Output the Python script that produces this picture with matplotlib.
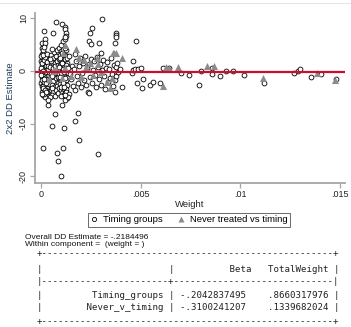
import matplotlib
matplotlib.use("Agg")
import matplotlib.pyplot as plt
from matplotlib.lines import Line2D

plt.rcParams['font.family'] = ['Liberation Sans', 'DejaVu Sans']

W, H = 351, 327

# Timing groups: (weight, 2x2 estimate)
timing_dense = [
    (0.00003, 3.2), (0.00015, 3.5), (0.00027, 2.9), (0.00008, 2.6), (0.00020, 2.3), (0.00033, 2.0),
    (0.00002, 1.9), (0.00012, 1.6), (0.00025, 1.4), (0.00005, 1.1), (0.00018, 0.9), (0.00030, 0.7),
    (0.00010, 0.5), (0.00022, 0.3), (0.00001, 0.1), (0.00014, -0.1), (0.00028, -0.3), (0.00006, -0.5),
    (0.00019, -0.7), (0.00034, -0.9), (0.00003, -1.1), (0.00013, -1.3), (0.00025, -1.5), (0.00008, -1.7),
    (0.00020, -1.9), (0.00031, -2.1), (0.00002, -2.3), (0.00015, -2.5), (0.00027, -2.7), (0.00007, -2.9),
    (0.00018, -3.1), (0.00032, -3.3), (0.00011, -3.5), (0.00024, -3.7), (0.00004, -3.9), (0.00016, -4.1),
    (0.00028, -4.3), (0.00009, -4.6), (0.00021, -4.9), (0.00036, -0.2), (0.00038, 1.3), (0.00039, -2.4),
    (0.00010, 2.1), (0.00023, 1.0), (0.00005, -0.3), (0.00017, -1.0), (0.00029, -1.9), (0.00012, -2.8),
    (0.00026, 0.2), (0.00001, 2.8), (0.00006, 4.3), (0.00014, 4.9), (0.00004, 5.4), (0.00009, 3.9),
    (0.00000, 0.6), (0.00011, -0.6), (0.00021, -0.2), (0.00033, 0.4), (0.00006, 1.5), (0.00016, 2.0),
    (0.00029, 1.7), (0.00003, -1.8), (0.00014, -2.0), (0.00024, -2.3), (0.00035, -1.5), (0.00008, -3.3),
    (0.00019, -3.6), (0.00030, -3.9), (0.00013, -4.4), (0.00024, -4.0), (0.00005, -4.3), (0.00022, 2.7),
    (0.00011, 3.0), (0.00030, 3.3), (0.00017, -1.5), (0.00009, 0.0), (0.00035, 1.0), (0.00002, -0.8),
    (0.00048, 3.0), (0.00060, 2.5), (0.00075, 2.8), (0.00052, 1.8), (0.00068, 1.5), (0.00082, 1.9),
    (0.00046, 0.8), (0.00058, 0.5), (0.00072, 0.9), (0.00085, 0.3), (0.00050, -0.5), (0.00064, -0.8),
    (0.00079, -0.4), (0.00047, -1.6), (0.00060, -1.9), (0.00074, -1.4), (0.00084, -2.2), (0.00053, -2.7),
    (0.00067, -3.0), (0.00080, -2.9), (0.00049, -3.6), (0.00062, -3.9), (0.00076, -3.7), (0.00056, -4.5),
    (0.00070, -4.8), (0.00083, -4.2), (0.00044, -5.0), (0.00066, 3.6), (0.00080, 3.9), (0.00055, 4.2),
    (0.00054, -1.0), (0.00069, -0.2), (0.00086, -1.2), (0.00043, 2.2), (0.00057, -3.2), (0.00087, 1.2),
    (0.00092, 4.3), (0.00100, 3.8), (0.00108, 4.0), (0.00116, 3.5), (0.00124, 3.9), (0.00095, 3.1),
    (0.00103, 2.7), (0.00111, 3.0), (0.00120, 2.6), (0.00128, 2.9), (0.00090, 2.2), (0.00098, 1.8),
    (0.00106, 2.1), (0.00114, 1.7), (0.00122, 2.0), (0.00131, 1.5), (0.00093, 1.2), (0.00101, 0.9),
    (0.00109, 1.3), (0.00117, 0.8), (0.00125, 1.1), (0.00096, 0.3), (0.00104, 0.0), (0.00112, 0.4),
    (0.00120, -0.1), (0.00128, 0.2), (0.00091, -0.6), (0.00099, -0.9), (0.00107, -0.5), (0.00115, -1.0),
    (0.00123, -0.7), (0.00131, -1.2), (0.00094, -1.6), (0.00102, -1.9), (0.00110, -1.5), (0.00118, -2.0),
    (0.00126, -1.7), (0.00097, -2.5), (0.00105, -2.8), (0.00113, -2.4), (0.00121, -2.9), (0.00129, -2.6),
    (0.00092, -3.3), (0.00100, -3.6), (0.00108, -3.2), (0.00116, -3.7), (0.00124, -3.4), (0.00103, -4.2),
    (0.00111, -4.5), (0.00119, -4.1), (0.00127, -4.6), (0.00133, -5.2), (0.00119, -5.5), (0.00098, 5.0),
    (0.00112, 5.6), (0.00121, 6.0),
    (0.00096, 2.5), (0.00105, 1.5), (0.00118, 2.3), (0.00126, 0.6), (0.00100, -0.3), (0.00113, -0.2),
    (0.00095, -1.2), (0.00108, -2.2), (0.00122, -1.3), (0.00099, -3.0), (0.00114, -3.0), (0.00127, -3.9),
    (0.00106, 3.4), (0.00118, 4.4), (0.00101, -4.8), (0.00089, 0.8), (0.00132, 2.4), (0.00134, -0.3),
]
timing_spread = [
    (0.00140, 2.8), (0.00150, -1.5), (0.00155, 1.0), (0.00160, -2.8), (0.00165, 0.4), (0.00170, 3.2),
    (0.00172, -3.6), (0.00178, 1.8), (0.00182, -0.9), (0.00188, -2.2), (0.00192, 0.9), (0.00198, 2.5),
    (0.00202, -3.1), (0.00208, -0.3), (0.00212, 1.6), (0.00218, -1.8), (0.00222, 2.9), (0.00228, -2.6),
    (0.00232, 0.5), (0.00238, -3.9), (0.00242, 1.3), (0.00248, -1.1), (0.00252, 2.2), (0.00258, -2.3),
    (0.00262, 0.2), (0.00268, 1.9), (0.00272, -0.7), (0.00278, -3.0), (0.00282, 2.7), (0.00288, 0.8),
    (0.00292, -1.6), (0.00298, 1.4), (0.00302, -2.6), (0.00308, 0.1), (0.00312, 2.0), (0.00318, -1.0),
    (0.00322, -3.4), (0.00328, 0.6), (0.00332, 1.7), (0.00338, -2.0), (0.00342, 0.3), (0.00348, -1.3),
    (0.00352, 2.4), (0.00358, -0.5), (0.00362, -2.9), (0.00366, 1.2), (0.00370, -1.8), (0.00374, 0.7),
    (0.00378, -0.9), (0.00382, 1.6), (0.00388, -0.2), (0.00395, 0.4), (0.00142, -4.4), (0.00135, 0.6),
    (0.00145, -0.6),
]
timing_outer = [
    (0.00017, 7.6), (0.00074, 9.2), (0.00062, 7.3), (0.00104, 8.9), (0.00120, 8.3), (0.00122, 7.9),
    (0.00123, 7.2), (0.00124, 6.7), (0.00122, 6.5), (0.00304, 9.9), (0.00256, 8.1), (0.00246, 7.2),
    (0.00242, 5.75), (0.00249, 5.1), (0.00289, 5.4), (0.00376, 7.2), (0.00376, 6.9), (0.00375, 6.5),
    (0.00371, 5.4), (0.00476, 5.6), (0.00018, 6.1), (0.00018, 5.3), (0.00017, 4.6), (0.00301, 3.4),
    (0.00463, 1.8),
    (0.00008, -14.6), (0.00070, -8.2), (0.00054, -10.4), (0.00034, -6.5), (0.00037, -5.5), (0.00105, -6.5),
    (0.00114, -10.8), (0.00110, -14.7), (0.00079, -15.6), (0.00087, -17.1), (0.00099, -19.9), (0.00170, -9.4),
    (0.00186, -7.9), (0.00189, -13.1), (0.00287, -15.8), (0.00137, -5.0), (0.00120, -4.6), (0.00242, -4.2),
    (0.00371, -4.0), (0.00406, -3.1), (0.00480, -2.3), (0.00505, -3.3), (0.00513, -1.5), (0.00547, -2.7),
    (0.00560, -2.1), (0.00597, -2.2), (0.00456, -0.3), (0.00460, 0.1), (0.00470, 0.3), (0.00485, 0.4),
    (0.00500, 0.5), (0.00610, 0.6), (0.00640, 0.5),
    (0.00702, -0.3), (0.00742, -0.7), (0.00794, -2.6), (0.00801, 0.05), (0.00859, -0.63), (0.00859, 0.5),
    (0.00896, -1.0), (0.00926, 0.0), (0.00965, -0.06), (0.01020, -0.7), (0.01120, -2.3), (0.01267, -0.44),
    (0.01290, 0.05), (0.01300, 0.4), (0.01354, -1.1), (0.01403, -0.6), (0.01481, -1.5),
]
timing_all = timing_dense + timing_spread + timing_outer
timing_w = [p[0] for p in timing_all]
timing_b = [p[1] for p in timing_all]

# Never treated vs timing
never_w = [0.00064, 0.00075, 0.00060, 0.00119, 0.00112, 0.00174, 0.00190, 0.00217, 0.00246, 0.00225,
           0.00280, 0.00300, 0.00285, 0.00260, 0.00346, 0.00354, 0.00363, 0.00368, 0.00376, 0.00405,
           0.00613, 0.00625, 0.00640, 0.00689, 0.00834, 0.00868, 0.01115, 0.01386, 0.01473, 0.00150,
           0.00105, 0.00120, 0.00040, 0.00330, 0.00200]
never_b = [0.2, 0.4, 0.0, 4.9, 3.4, 4.2, 2.4, 2.0, 1.5, 0.8,
           2.4, -0.1, 1.3, -0.8, -3.2, -1.4, 3.5, 3.5, 3.4, 2.5,
           -2.8, 0.7, 0.5, 0.8, 1.0, 1.0, -1.4, -0.4, -1.7, -1.0,
           -1.3, 0.5, -1.5, -2.0, -1.2]

overall_dd = -0.2184496
x_ticks = [0, 0.005, 0.01, 0.015]
x_labels = ['0', '.005', '.01', '.015']
y_ticks = [-20, -10, 0, 10]

table_rows = [
    "+" + "-" * 53 + "+",
    "|" + " " * 23 + "|" + " " * 10 + "Beta" + " " * 3 + "TotalWeight" + " |",
    "|" + "-" * 23 + "+" + "-" * 29 + "|",
    "|" + " " * 9 + "Timing_groups |" + " -.2042837495    .8660317976 |",
    "|" + " " * 8 + "Never_v_timing |" + " -.3100241207    .1339682024 |",
    "+" + "-" * 53 + "+",
]
table_y = [253, 269, 281, 296, 308, 321]


def fx(px):
    return px / W


def fy(py):
    return 1 - py / H


fig = plt.figure(figsize=(W / 100, H / 100), dpi=100)
ax = fig.add_axes([fx(35), fy(183), fx(310), 170 / H])

ax.scatter(timing_w, timing_b, s=12, facecolors='white', edgecolors='black', linewidths=0.6, zorder=2)
ax.scatter(never_w, never_b, s=26, marker='^', color='#8c8c8c', linewidths=0, zorder=3)
ax.axhline(overall_dd, color='#c8102e', lw=1.6, zorder=4)

ax.set_xlim(-0.0003, 0.01525)
ax.set_ylim(-21.25, 11.0)
ax.set_xticks(x_ticks)
ax.set_xticklabels(x_labels)
ax.set_yticks(y_ticks)
ax.set_yticklabels([str(t) for t in y_ticks], rotation=90, va='center')
for s in ['top', 'right']:
    ax.spines[s].set_visible(False)
for s in ['left', 'bottom']:
    ax.spines[s].set_color('#a6a6a6')
    ax.spines[s].set_linewidth(1.3)
ax.tick_params(colors='#a6a6a6', labelcolor='#222222', length=3.5, width=0.9, labelsize=6.5, pad=1.5)
ax.set_xlabel('Weight', fontsize=6.8, color='#222222', labelpad=1)
ax.set_ylabel('2x2 DD Estimate', fontsize=6.8, color='#1f3b57', labelpad=2)
ax.yaxis.set_label_coords(fx(15 - 35) / fx(310), 0.5)

# faint border of the graph region
fig.add_artist(Line2D([0, 1], [fy(3), fy(3)], color='#e6e6e6', lw=0.8))

handles = [
    Line2D([], [], ls='none', marker='o', ms=3, mfc='white', mec='black', mew=0.6),
    Line2D([], [], ls='none', marker='^', ms=4, mfc='#8c8c8c', mec='none'),
]
leg = fig.legend(handles, ['Timing groups', 'Never treated vs timing'], loc='center',
                 bbox_to_anchor=(fx(189), fy(220)), ncol=2, fontsize=6.8, frameon=True,
                 fancybox=False, edgecolor='#444444', borderpad=0.3, handlelength=0.8,
                 handletextpad=0.5, columnspacing=1.6)
leg.get_frame().set_linewidth(0.7)

fig.text(fx(25), fy(237.5), 'Overall DD Estimate = -.2184496', fontsize=6.0, va='center', color='#111111')
fig.text(fx(25), fy(245), 'Within component =  (weight = )', fontsize=6.0, va='center', color='#111111')

for row, ry in zip(table_rows, table_y):
    fig.text(fx(36.7), fy(ry), row, family='DejaVu Sans Mono', fontsize=6.6, va='center', color='#222222')

fig.savefig('out.png', dpi=100)
